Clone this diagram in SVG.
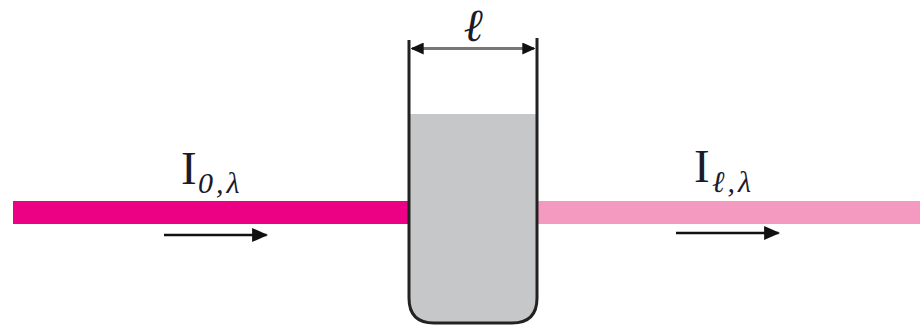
<svg xmlns="http://www.w3.org/2000/svg" width="920" height="325" viewBox="0 0 920 325">
<style>
.lab{font-family:"Liberation Serif","Times New Roman",serif;fill:#1a1a2a}
.main{font-size:47px}
.sub{font-size:30px;font-style:italic;letter-spacing:3px}
.ell{font-size:46px;font-style:italic}
.conn{fill:none;stroke:#111;stroke-width:2.5}
.dim{fill:none;stroke:#777;stroke-width:3}
</style>
<defs>
<marker id="h" viewBox="0 0 10 10" refX="9" refY="5" markerWidth="16" markerHeight="14" markerUnits="userSpaceOnUse" orient="auto-start-reverse" preserveAspectRatio="none"><path d="M0 0L10 5L0 10Z" fill="#111"/></marker>
<marker id="d" viewBox="0 0 10 10" refX="9" refY="5" markerWidth="13" markerHeight="12" markerUnits="userSpaceOnUse" orient="auto-start-reverse" preserveAspectRatio="none"><path d="M0 0L10 5L0 10Z" fill="#111"/></marker>
</defs>
<rect width="920" height="325" fill="#fff"/>
<g id="beam-in"><rect x="13" y="201" width="397" height="23" fill="#ec0084"/></g>
<g id="beam-out"><rect x="537" y="201" width="383" height="23" fill="#f49ac1"/></g>
<g id="cuvette">
<path d="M409 114H537V298Q537 323 512 323H434Q409 323 409 298Z" fill="#c6c7c9"/>
<path d="M409 40V298Q409 323 434 323H512Q537 323 537 298V38" fill="none" stroke="#222" stroke-width="3"/>
</g>
<g id="label-l"><text class="lab ell" x="473" y="41" text-anchor="middle">ℓ</text></g>
<g id="label-i0"><text class="lab main" x="181" y="184">I</text><text class="lab sub" x="198" y="193">0,λ</text></g>
<g id="label-il"><text class="lab main" x="694" y="182">I</text><text class="lab sub" x="712" y="192">ℓ,λ</text></g>
<g id="connectors">
<line class="dim" x1="412" y1="48.500" x2="534" y2="48.500" marker-start="url(#d)" marker-end="url(#d)"/>
<line class="conn" x1="164" y1="235" x2="266.500" y2="235" marker-end="url(#h)"/>
<line class="conn" x1="676" y1="233" x2="778.500" y2="233" marker-end="url(#h)"/>
</g>
</svg>
